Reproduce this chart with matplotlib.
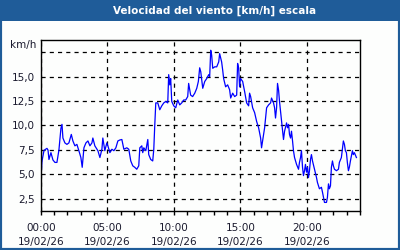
import numpy as np
import matplotlib
matplotlib.use("Agg")
import matplotlib.pyplot as plt
from matplotlib.patches import Rectangle

# wind speed trace, hours since 19/02/26 00:00
hours = [0.02, 0.10, 0.25, 0.47, 0.55, 0.62, 0.77, 0.92, 1.07, 1.22, 1.37, 1.52, 1.60, 1.67,
         1.82, 1.97, 2.12, 2.30, 2.42, 2.57, 2.72, 2.87, 3.02, 3.12, 3.25, 3.40, 3.55, 3.70,
         3.85, 3.92, 4.07, 4.30, 4.45, 4.60, 4.67, 4.82, 4.97, 5.05, 5.20, 5.35, 5.50, 5.65,
         5.80, 5.95, 6.10, 6.25, 6.47, 6.62, 6.77, 6.92, 7.07, 7.22, 7.37, 7.45, 7.60, 7.67,
         7.75, 7.90, 8.05, 8.12, 8.27, 8.42, 8.50, 8.57, 8.65, 8.80, 8.95, 9.10, 9.25, 9.40,
         9.55, 9.62, 9.70, 9.77, 9.85, 10.00, 10.15, 10.30, 10.45, 10.60, 10.75, 10.90, 11.05,
         11.12, 11.27, 11.42, 11.58, 11.73, 11.85, 11.95, 12.03, 12.18, 12.33, 12.48, 12.63,
         12.70, 12.78, 12.85, 12.93, 13.08, 13.23, 13.38, 13.45, 13.60, 13.68, 13.75, 13.90,
         14.05, 14.20, 14.28, 14.43, 14.58, 14.73, 14.80, 14.88, 14.95, 15.02, 15.18, 15.33,
         15.48, 15.63, 15.70, 15.78, 15.93, 16.08, 16.23, 16.38, 16.53, 16.60, 16.68, 16.83,
         16.98, 17.13, 17.28, 17.35, 17.50, 17.58, 17.65, 17.73, 17.80, 17.88, 17.95, 18.03,
         18.10, 18.18, 18.25, 18.33, 18.48, 18.55, 18.63, 18.70, 18.78, 18.85, 18.93, 19.00,
         19.08, 19.23, 19.38, 19.45, 19.53, 19.60, 19.68, 19.75, 19.83, 19.90, 19.98, 20.05,
         20.13, 20.20, 20.28, 20.35, 20.43, 20.58, 20.73, 20.80, 20.95, 21.10, 21.18, 21.33,
         21.48, 21.55, 21.63, 21.70, 21.78, 21.85, 21.93, 22.00, 22.08, 22.23, 22.38, 22.45,
         22.60, 22.75, 22.83, 22.90, 22.98, 23.05, 23.13, 23.20, 23.28, 23.43, 23.50, 23.58,
         23.73]
speed = [4.6, 6.35, 7.44, 7.64, 7.47, 6.5, 7.2, 6.45, 6.2, 6.2, 7.47, 9.7, 10.1, 8.7,
         8.2, 8.05, 8.2, 9.07, 8.4, 7.9, 8.05, 7.4, 6.7, 5.7, 7.7, 8.2, 8.4, 7.9,
         8.2, 8.7, 7.9, 7.4, 6.7, 7.55, 8.7, 7.4, 8.2, 7.9, 7.2, 7.55, 7.4, 7.7,
         8.4, 8.5, 8.55, 7.55, 7.7, 7.55, 6.35, 5.85, 5.7, 5.5, 5.85, 7.7, 7.9, 7.2,
         7.7, 7.4, 8.55, 7.0, 6.5, 6.35, 7.55, 9.9, 12.3, 12.3, 11.6, 12.0, 12.3, 12.45,
         12.3, 15.2, 14.15, 14.8, 12.45, 12.0, 11.8, 12.6, 12.1, 12.3, 12.6, 12.6, 12.95,
         14.3, 13.1, 12.95, 13.3, 13.8, 14.5, 15.9, 15.5, 13.8, 14.5, 14.8, 15.2,
         15.0, 17.7, 17.2, 15.85, 16.0, 16.0, 16.5, 17.35, 16.5, 15.65, 14.8, 13.95,
         14.15, 13.65, 12.8, 13.3, 12.95, 13.1, 16.35, 15.85, 13.95, 14.8, 14.5, 13.45,
         12.3, 12.0, 13.3, 12.95, 11.8, 11.3, 10.4, 9.75, 8.7, 7.7, 8.4, 9.75,
         11.8, 12.1, 12.3, 12.8, 12.3, 11.8, 10.75, 11.8, 14.3, 13.6, 12.45, 11.4,
         10.4, 9.4, 8.55, 9.4, 10.25, 9.75, 10.1, 9.07, 8.7, 9.4, 8.4, 7.4,
         6.7, 6.0, 5.5, 6.2, 6.7, 7.4, 5.7, 4.85, 5.35, 6.0, 5.2, 5.7,
         4.65, 5.35, 6.5, 7.0, 6.35, 5.5, 4.65, 4.15, 3.5, 3.65, 3.15, 2.1,
         2.1, 2.6, 4.0, 3.5, 3.8, 5.7, 6.35, 5.85, 5.5, 5.35, 5.5, 6.2,
         6.7, 8.4, 8.05, 7.4, 7.2, 6.2, 5.35, 5.7, 6.35, 7.4, 7.0, 7.2,
         6.7]

x_ticks = [0, 5, 10, 15, 20]
x_labels = ["00:00\n19/02/26", "05:00\n19/02/26", "10:00\n19/02/26",
            "15:00\n19/02/26", "20:00\n19/02/26"]
y_ticks = [2.5, 5.0, 7.5, 10.0, 12.5, 15.0, 17.5]
y_labels = ["2,5", "5,0", "7,5", "10,0", "12,5", "15,0", ""]

blue = "#1f5c99"

fig = plt.figure(figsize=(4, 2.5), dpi=100)
fig.patch.set_facecolor("#fdfefd")

# outer border + title bar
fig.patches.append(Rectangle((0, 0), 1, 1, transform=fig.transFigure,
                             fill=False, edgecolor=blue, lw=3))
fig.patches.append(Rectangle((0, 1 - 21 / 250), 1, 21 / 250, transform=fig.transFigure,
                             facecolor=blue, edgecolor="none"))
fig.text(215 / 400, 1 - 10.5 / 250, "Velocidad del viento [km/h] escala", color="white",
         fontsize=7.5, fontweight="bold", ha="center", va="center")

ax = fig.add_axes([40.7 / 400, 1 - 210.7 / 250, (360 - 40.7) / 400, (210.7 - 40) / 250])
ax.set_facecolor("#fdfefd")
ax.plot(hours, speed, color="#0000ff", lw=0.9)

ax.set_xlim(0, 24)
ax.set_ylim(1.25, 18.75)
ax.set_xticks(x_ticks)
ax.set_xticklabels(x_labels, fontsize=7.5, color="#1a1a2e", linespacing=1.5)
ax.set_xticks(np.arange(0, 25, 1), minor=True)
ax.set_yticks(y_ticks)
ax.set_yticklabels(y_labels, fontsize=7.5, color="#1a1a2e")
ax.tick_params(axis="x", which="both", length=3, width=1, pad=6, color="black")
ax.tick_params(axis="y", length=0, pad=4)
ax.grid(True, color="black", lw=0.9, linestyle=(0, (3.3, 3.3)))
for s in ax.spines.values():
    s.set_color("black")
    s.set_linewidth(1)

fig.text(36 / 400, 1 - 45 / 250, "km/h", fontsize=7.5, color="#1a1a2e", ha="right", va="center")

fig.savefig("out.png", dpi=100, facecolor=fig.get_facecolor())
